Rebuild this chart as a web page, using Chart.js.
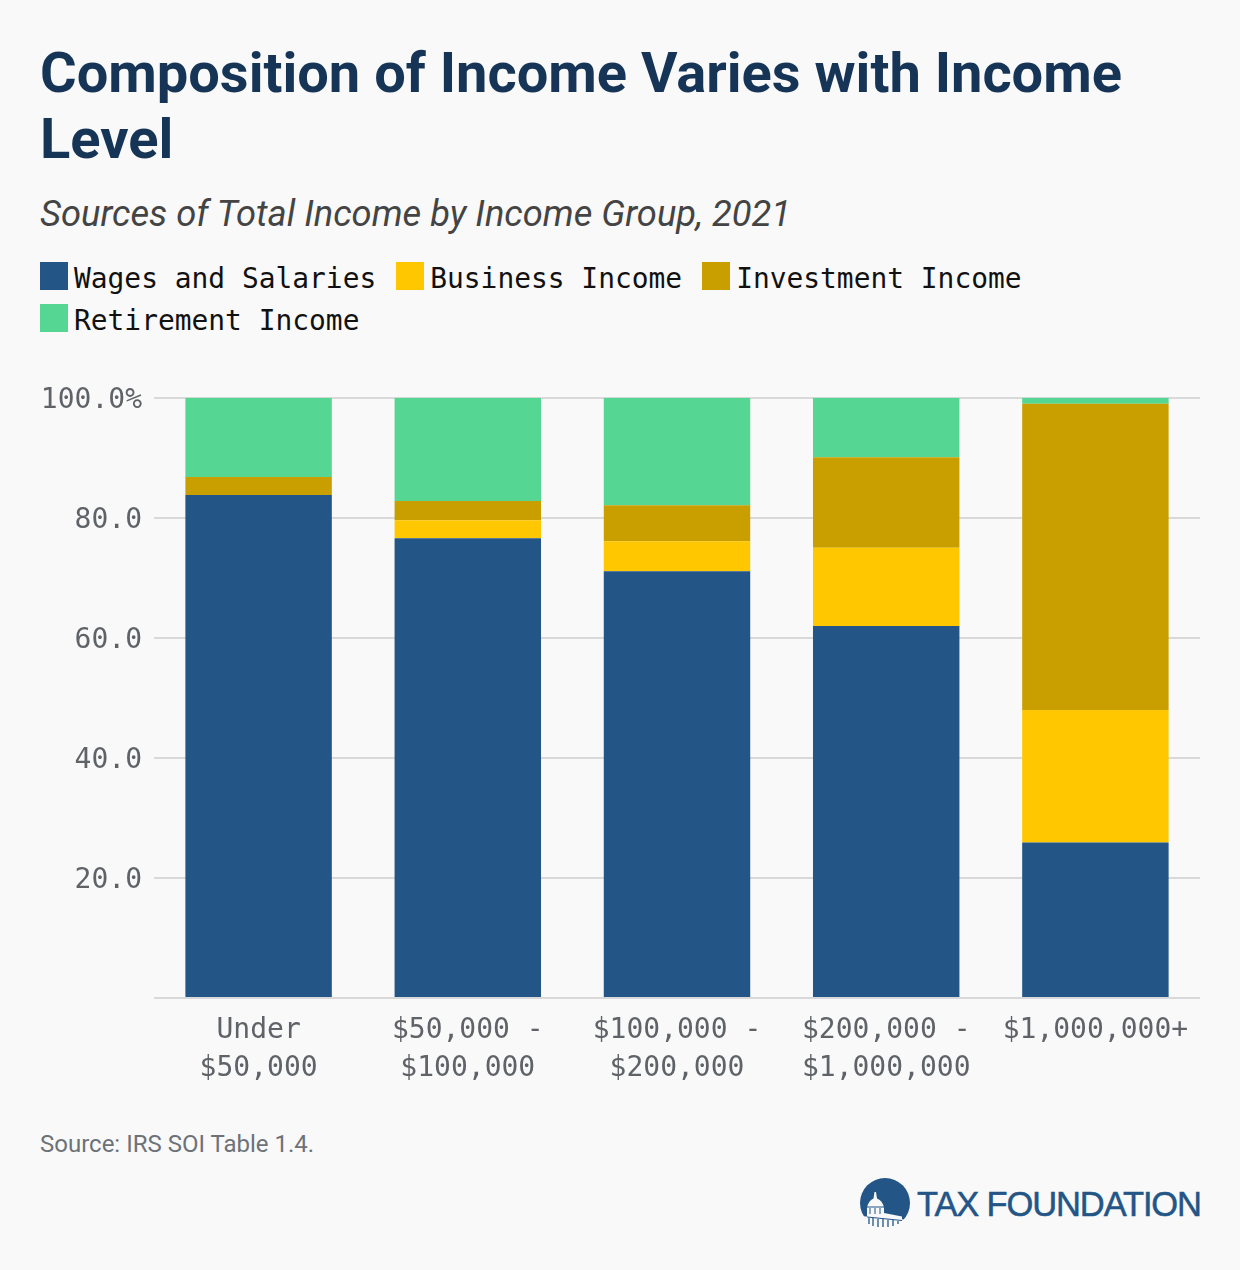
<!DOCTYPE html>
<html>
<head>
<meta charset="utf-8">
<title>Composition of Income</title>
<script src="https://cdn.jsdelivr.net/npm/chart.js@4"></script>
<style>
  html, body { margin: 0; padding: 0; background: #f9f9f9; }
  #page { position: relative; width: 1240px; height: 1270px; overflow: hidden; font-family: Roboto, sans-serif; }
  #page > * { position: absolute; }
  h1 { left: 40px; top: 40px; width: 1160px; margin: 0; font-size: 56px; line-height: 66px; font-weight: 700; color: #163556; }
  h2 { left: 40px; top: 193px; margin: 0; font-size: 36.3px; line-height: 42px; font-weight: 400; font-style: italic; color: #444; white-space: nowrap; }
  #legend { left: 40px; top: 262px; width: 1160px; display: flex; flex-wrap: wrap; row-gap: 14px; column-gap: 20px; font-family: "DejaVu Sans Mono", monospace; font-size: 27.9px; color: #111; }
  .item { display: flex; align-items: center; height: 28px; }
  .item i { display: block; width: 28px; height: 28px; margin-right: 6px; }
  .item span { position: relative; top: 2px; }
  #wrap { left: 0; top: 369px; width: 1240px; height: 730px; }
  #source { left: 40px; top: 1130px; font-size: 24px; line-height: 28px; color: #6d7278; }
  #logo { left: 860px; top: 1178px; width: 340px; height: 50px; }
</style>
</head>
<body>
<div id="page">
  <h1>Composition of Income Varies with Income Level</h1>
  <h2>Sources of Total Income by Income Group, 2021</h2>
  <div id="legend"></div>
  <div id="wrap"><canvas id="myChart" width="1240" height="730"></canvas></div>
  <div id="source">Source: IRS SOI Table 1.4.</div>
  <svg id="logo" viewBox="0 0 340 50">
    <circle cx="25" cy="25" r="25" fill="#235587"/>
    <path d="M0 38 L50 42 L50 50 L0 50 Z" fill="#f9f9f9"/>
    <path d="M7 39 L7 30 Q8 23 13.5 20.5 L14.5 14 L16 14 L17 20.5 Q23 23 24 30 L24 35 L42 38.5 L42 42 Z" fill="#f9f9f9"/>
    <path d="M7 29 H24 M10 30 V36 M15 30 V36 M20 30 V36 M7 39 L42 42.5" stroke="#235587" stroke-width="1" fill="none"/>
    <path d="M9 40 V46 M13 40 V48 M18 41 V49 M23 41 V49 M28 42 V49 M33 42 V48 M38 43 V46" stroke="#235587" stroke-width="1.3" fill="none"/>
    <text x="57" y="38" font-family="Liberation Sans" font-size="34.5" textLength="285" lengthAdjust="spacing" stroke="#235587" stroke-width="0.5" fill="#235587">TAX FOUNDATION</text>
  </svg>
</div>
<script>
var categories = [
  ['Under', '$50,000'],
  ['$50,000 -', '$100,000'],
  ['$100,000 -', '$200,000'],
  ['$200,000 -', '$1,000,000'],
  '$1,000,000+'
];
var wages = [83.8, 76.6, 71.1, 62.0, 25.9];
var business = [0, 3.0, 5.0, 13.0, 22.1];
var investment = [3.0, 3.2, 6.0, 15.1, 51.0];
var retirement = [13.2, 17.2, 17.9, 9.9, 1.0];
var yTicks = [0, 20, 40, 60, 80, 100];

var mono = 'DejaVu Sans Mono';

var ctx = document.getElementById('myChart').getContext('2d');
var myChart = new Chart(ctx, {
  type: 'bar',
  data: {
    labels: categories,
    datasets: [
      { label: 'Wages and Salaries', data: wages, backgroundColor: '#235587' },
      { label: 'Business Income', data: business, backgroundColor: '#ffc700' },
      { label: 'Investment Income', data: investment, backgroundColor: '#c99f00' },
      { label: 'Retirement Income', data: retirement, backgroundColor: '#56d693' }
    ]
  },
  options: {
    responsive: false,
    animation: false,
    devicePixelRatio: 1,
    layout: { padding: { left: 40, right: 40, top: 26, bottom: 0 } },
    datasets: { bar: { barPercentage: 0.7, categoryPercentage: 1 } },
    plugins: { legend: { display: false }, tooltip: { enabled: false } },
    scales: {
      x: {
        stacked: true,
        grid: { display: false },
        border: { display: false },
        ticks: {
          color: '#5f6368',
          font: { family: mono, size: 28, lineHeight: 1.36 },
          maxRotation: 0,
          autoSkip: false,
          padding: 6
        },
        afterFit: function (scale) { scale.height = 101; }
      },
      y: {
        stacked: true,
        min: 0,
        max: 100,
        afterBuildTicks: function (scale) {
          scale.ticks = yTicks.map(function (v) { return { value: v }; });
        },
        grid: { color: '#d9d9d9', lineWidth: 2, drawTicks: false },
        border: { display: false },
        ticks: {
          color: '#5f6368',
          font: { family: mono, size: 28 },
          padding: 12,
          labelOffset: 3,
          callback: function (v) {
            if (v === 0) return '';
            return v === 100 ? '100.0%' : v.toFixed(1);
          }
        },
        afterFit: function (scale) { scale.width = 114; }
      }
    }
  }
});

// legend is html, filled from the chart's own datasets
var legendBox = document.getElementById('legend');
myChart.data.datasets.forEach(function (ds) {
  var item = document.createElement('div');
  item.className = 'item';
  var swatch = document.createElement('i');
  swatch.style.background = ds.backgroundColor;
  var text = document.createElement('span');
  text.textContent = ds.label;
  item.appendChild(swatch);
  item.appendChild(text);
  legendBox.appendChild(item);
});
</script>
</body>
</html>
